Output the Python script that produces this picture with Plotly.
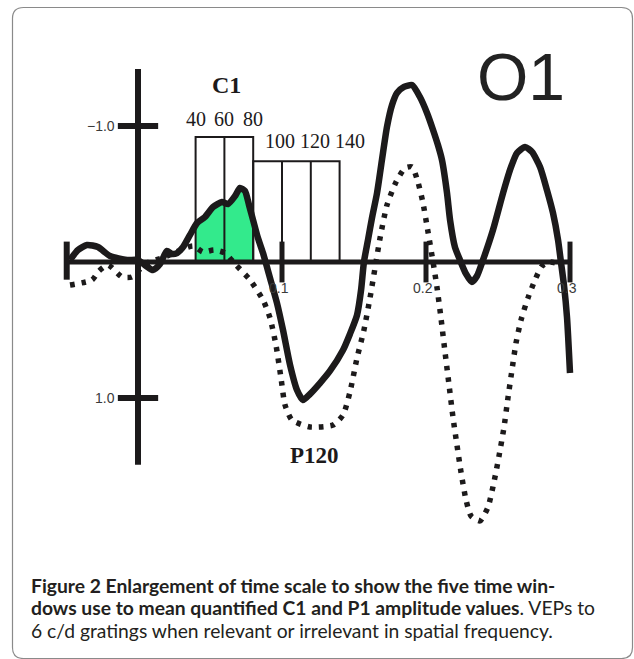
import numpy as np
import plotly.graph_objects as go

# ---------------- data (time in s, amplitude in µV; negative plotted upward) -------------
solid_t = [-0.0472, -0.0417, -0.0354, -0.0278, -0.0194, -0.0076, 0.0, 0.0056, 0.0104, 0.0153,
           0.0201, 0.0236, 0.0271, 0.0313, 0.0361, 0.0410, 0.0465, 0.0521, 0.0583, 0.0625,
           0.0674, 0.0708, 0.0743, 0.0771, 0.0799, 0.0833, 0.0868, 0.0917, 0.0965, 0.1007,
           0.1056, 0.1104, 0.1146, 0.1194, 0.1264, 0.1333, 0.1424, 0.1472, 0.1521, 0.1549,
           0.1569, 0.1597, 0.1625, 0.1660, 0.1694, 0.1729, 0.1764, 0.1799, 0.1847, 0.1903,
           0.1958, 0.2007, 0.2049, 0.2083, 0.2111, 0.2146, 0.2167, 0.2201, 0.2236, 0.2278,
           0.2319, 0.2354, 0.2396, 0.2465, 0.2535, 0.2583, 0.2632, 0.2688, 0.2736, 0.2792,
           0.2840, 0.2882, 0.2917, 0.2937, 0.2958, 0.2979, 0.3000]
solid_v = [-0.015, -0.088, -0.125, -0.110, -0.044, -0.015, -0.015, 0.029, 0.059, 0.015,
           -0.081, -0.059, -0.066, -0.110, -0.199, -0.287, -0.331, -0.404, -0.441, -0.426,
           -0.485, -0.544, -0.522, -0.419, -0.309, -0.176, -0.066, 0.118, 0.301, 0.500,
           0.757, 0.941, 1.015, 0.971, 0.890, 0.801, 0.647, 0.529, 0.390, 0.206,
           0.000, -0.162, -0.324, -0.507, -0.750, -0.993, -1.154, -1.243, -1.287, -1.301,
           -1.213, -1.096, -0.971, -0.860, -0.750, -0.507, -0.309, -0.110, -0.015, 0.088,
           0.147, 0.103, -0.015, -0.235, -0.507, -0.676, -0.801, -0.846, -0.809, -0.699,
           -0.529, -0.360, -0.162, 0.000, 0.169, 0.404, 0.816]

dotted_t = [-0.0472, -0.0319, -0.0271, -0.0208, -0.0111, -0.0042, 0.0049, 0.0188, 0.0382, 0.0451,
            0.0528, 0.0604, 0.0674, 0.0778, 0.0868, 0.0917, 0.0958, 0.0993, 0.1021, 0.1069,
            0.1194, 0.1354, 0.1424, 0.1472, 0.1521, 0.1569, 0.1611, 0.1646, 0.1681, 0.1729,
            0.1792, 0.1854, 0.1903, 0.1944, 0.1979, 0.2014, 0.2049, 0.2076, 0.2104, 0.2132,
            0.2160, 0.2188, 0.2215, 0.2243, 0.2278, 0.2313, 0.2375, 0.2431, 0.2472, 0.2507,
            0.2542, 0.2569, 0.2597, 0.2625, 0.2660, 0.2708, 0.2757, 0.2806, 0.2861, 0.2944]
dotted_v = [0.169, 0.132, 0.066, 0.022, 0.110, 0.110, 0.015, -0.037, -0.118, -0.074,
            -0.088, -0.066, 0.015, 0.132, 0.279, 0.412, 0.610, 0.853, 1.051, 1.162,
            1.213, 1.199, 1.125, 0.956, 0.706, 0.500, 0.265, 0.044, -0.176, -0.419,
            -0.588, -0.691, -0.699, -0.588, -0.434, -0.221, 0.000, 0.184, 0.412, 0.662,
            0.904, 1.147, 1.346, 1.544, 1.750, 1.868, 1.904, 1.801, 1.618, 1.426,
            1.213, 1.000, 0.794, 0.596, 0.426, 0.265, 0.132, 0.029, 0.000, 0.022]

c1_edges = [0.04, 0.06, 0.08]          # C1 time windows (s)
c1_top = -0.92
p1_edges = [0.08, 0.10, 0.12, 0.14]    # P1 time windows (s)
p1_top = -0.74
c1_labels = ["40", "60", "80"]
p1_labels = ["100", "120", "140"]
x_ticks = [0.1, 0.2, 0.3]
x_tick_labels = ["0.1", "0.2", "0.3"]
y_ticks = [-1.0, 1.0]
y_tick_labels = ["\u22121.0", "1.0"]

W, H = 634, 659
BLACK = "#1c1a1b"

fig = go.Figure()

# green C1 area under the solid curve
st = np.array(solid_t)
sv = np.array(solid_v)
lo, hi = c1_edges[0], c1_edges[-1]
m = (st > lo) & (st < hi)
fx = [lo] + list(st[m]) + [hi]
fy = [float(np.interp(lo, st, sv))] + list(sv[m]) + [float(np.interp(hi, st, sv))]
fig.add_trace(go.Scatter(x=fx, y=fy, mode="lines", fill="tozeroy",
                         fillcolor="#33ea8c", line=dict(width=0, color="#33ea8c"),
                         hoverinfo="skip"))


def window_path(edges, top):
    xs = [edges[0], edges[0], edges[-1], edges[-1], None]
    ys = [0, top, top, 0, None]
    for e in edges[1:-1]:
        xs += [e, e, None]
        ys += [0, top, None]
    return xs, ys


bx1, by1 = window_path(c1_edges, c1_top)
bx2, by2 = window_path(p1_edges, p1_top)
fig.add_trace(go.Scatter(x=bx1 + bx2, y=by1 + by2, mode="lines",
                         line=dict(color=BLACK, width=2), hoverinfo="skip"))

fig.add_trace(go.Scatter(x=dotted_t, y=dotted_v, mode="lines",
                         line=dict(color=BLACK, width=5.5, dash="4.5px,7px",
                                   shape="spline", smoothing=0.6)))
fig.add_trace(go.Scatter(x=solid_t, y=solid_v, mode="lines",
                         line=dict(color=BLACK, width=6.5, shape="spline", smoothing=0.6)))

# ---------------- hand-drawn style axes ----------------
shapes = []
def seg(x0, y0, x1, y1, w):
    shapes.append(dict(type="line", xref="x", yref="y", x0=x0, y0=y0, x1=x1, y1=y1,
                       line=dict(color=BLACK, width=w), layer="above"))

seg(0, -1.42, 0, 1.49, 6)                 # amplitude axis
seg(-0.0507, 0, 0.3014, 0, 5)             # time axis
seg(-0.0495, -0.15, -0.0495, 0.13, 6)     # left end bar
for xt in x_ticks:
    seg(xt, -0.15, xt, 0.15, 5)
for yt in y_ticks:
    seg(-0.014, yt, 0.014, yt, 6)

# rounded frame (paper coords)
def px(x):
    return x / W
def py(y):
    return 1 - y / H
L, T, R, B, r = 12.5, 7.5, 632.5, 658.5, 11
path = (f"M {px(L)},{py(B - r)} L {px(L)},{py(T + r)} Q {px(L)},{py(T)} {px(L + r)},{py(T)} "
        f"L {px(R - r)},{py(T)} Q {px(R)},{py(T)} {px(R)},{py(T + r)} "
        f"L {px(R)},{py(B - r)} Q {px(R)},{py(B)} {px(R - r)},{py(B)} "
        f"L {px(L + r)},{py(B)} Q {px(L)},{py(B)} {px(L)},{py(B - r)} Z")
shapes.append(dict(type="path", xref="paper", yref="paper", path=path,
                   line=dict(color="#8a8a8a", width=1.2), layer="above"))

ann = []
tick_font = dict(family="Liberation Sans, Arial", size=14, color="#3a3a3a")
for xt, lab in zip(x_ticks, x_tick_labels):
    ann.append(dict(x=xt - 0.002, y=0.19, xref="x", yref="y", text=lab, showarrow=False,
                    font=tick_font, xanchor="center", yanchor="middle"))
for yt, lab in zip(y_ticks, y_tick_labels):
    ann.append(dict(x=-0.0145, y=yt, xref="x", yref="y", text=lab, showarrow=False,
                    font=tick_font, xanchor="right", yanchor="middle"))

serif = "Liberation Serif, Times New Roman"
for e, lab in zip(c1_edges, c1_labels):
    ann.append(dict(x=e, y=-1.05, xref="x", yref="y", text=lab, showarrow=False,
                    font=dict(family=serif, size=20, color=BLACK),
                    xanchor="center", yanchor="middle"))
for xc, lab in zip([0.0986, 0.1229, 0.1472], p1_labels):
    ann.append(dict(x=xc, y=-0.89, xref="x", yref="y", text=lab, showarrow=False,
                    font=dict(family=serif, size=20, color=BLACK),
                    xanchor="center", yanchor="middle"))
ann.append(dict(x=0.0618, y=-1.30, xref="x", yref="y", text="<b>C1</b>", showarrow=False,
                font=dict(family=serif, size=24, color=BLACK), xanchor="center", yanchor="middle"))
ann.append(dict(x=0.1229, y=1.42, xref="x", yref="y", text="<b>P120</b>", showarrow=False,
                font=dict(family=serif, size=23, color=BLACK), xanchor="center", yanchor="middle"))
ann.append(dict(x=0.2660, y=-1.36, xref="x", yref="y", text="O1", showarrow=False,
                font=dict(family="Liberation Sans, Arial", size=66, color="#222222"),
                xanchor="center", yanchor="middle"))

cap_font = dict(family="Lato, Open Sans, sans-serif", size=19.3, color="#231f20")
cap_lines = [
    "<b>Figure 2 Enlargement of time scale to show the five time win-</b>",
    "<b>dows use to mean quantified C1 and P1 amplitude values</b>. VEPs to",
    "6 c/d gratings when relevant or irrelevant in spatial frequency.",
]
for i, txt in enumerate(cap_lines):
    ann.append(dict(x=px(29), y=py(585 + 22.5 * i), xref="paper", yref="paper", text=txt,
                    showarrow=False, font=cap_font, xanchor="left", yanchor="middle"))

fig.update_layout(
    width=W, height=H, margin=dict(l=0, r=0, t=0, b=0),
    paper_bgcolor="white", plot_bgcolor="white", showlegend=False,
    xaxis=dict(range=[-138 / 1440, (W - 138) / 1440], visible=False, fixedrange=True),
    yaxis=dict(range=[(H - 262) / 136, -262 / 136], visible=False, fixedrange=True),
    shapes=shapes, annotations=ann,
)
fig.write_html("out.html", config={"displayModeBar": False},
               post_script="document.body.style.margin='0';")
